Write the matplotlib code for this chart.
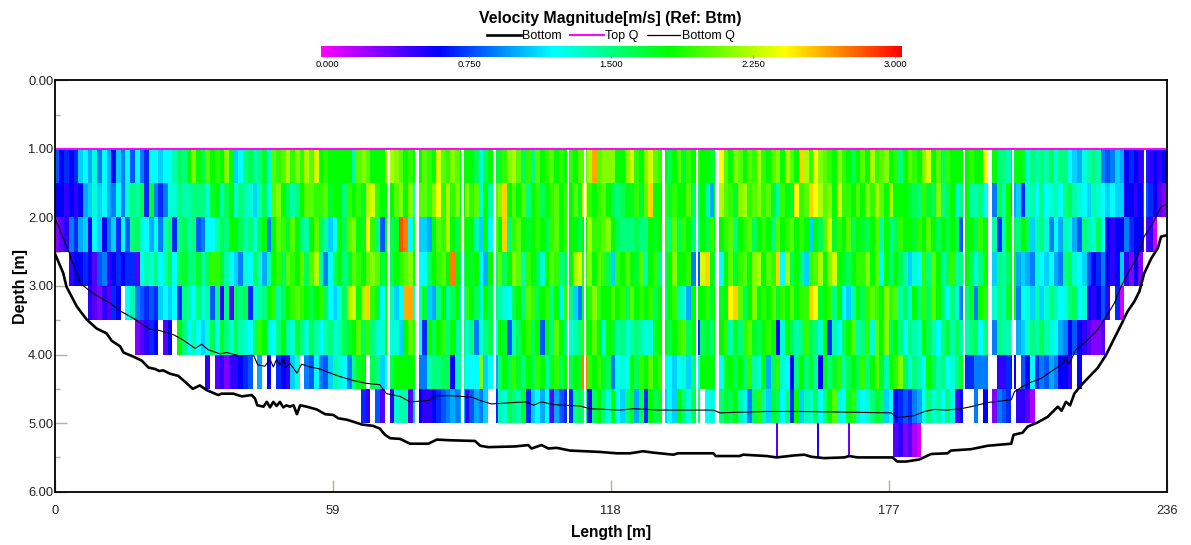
import numpy as np
import matplotlib
matplotlib.use("Agg")
import matplotlib.pyplot as plt
from matplotlib.colors import LinearSegmentedColormap
from matplotlib.lines import Line2D

plt.rcParams['font.family'] = ['Liberation Sans', 'DejaVu Sans']

W, H = 1191, 545

# velocity per 1 m column, in tenths of m/s, 0 = no data
layer_10 = [
    8,6,7,6,7,11,12,10,13,9, 12,10,6,11,9,12,8,12,9,7, 12,12,11,12,12,14,16,15,18,21,
    18,16,20,18,19,18,21,18,11,12, 15,16,14,15,17,13,20,19,20,22, 19,21,19,22,20,23,18,19,18,18,
    18,18,18,14,20,21,20,18,18,18, 22,22,21,20,18,19,18,18,20,19, 18,23,20,19,21,20,18,18,18,16,
    13,16,18,17,17,19,21,22,20,16, 19,15,20,18,19,20,18,19,18,19, 18,20,20,22,26,20,21,21,21,18,
    18,21,23,19,18,21,23,20,19,18, 16,18,20,17,19,18,19,18,18,17, 17,24,20,18,21,20,18,20,19,22,
    19,18,20,21,18,22,20,18,25,22, 19,24,21,20,19,18,21,19,18,16, 18,20,18,22,19,20,21,18,19,15,
    18,20,19,18,21,23,18,20,16,19, 18,18,18,18,19,18,18,24,18,18, 15,15,14,17,18,17,13,15,14,15,
    14,16,13,15,15,12,11,10,13,14, 15,14,9,8,9,11,10,6,7,6, 5,7,5,6,5,6]
layer_15 = [
    6,6,5,6,5,6,10,11,13,11, 12,10,9,12,9,13,15,14,16,7, 17,9,7,9,13,13,15,14,14,15,
    15,15,13,17,18,14,16,18,13,15, 14,13,11,14,16,12,20,21,18,16, 14,15,18,20,20,19,19,20,17,18,
    18,15,19,18,19,17,22,23,19,18, 18,18,20,21,18,21,13,20,20,19, 21,24,19,22,19,21,18,21,19,20,
    13,18,14,20,21,25,18,20,18,20, 15,18,19,16,18,19,20,18,19,18, 20,17,23,19,18,19,20,18,16,15,
    16,18,17,19,17,20,25,18,18,19, 17,19,18,18,20,16,15,18,14,10, 17,22,20,19,17,21,22,19,20,21,
    19,20,17,14,19,18,17,24,19,20, 25,24,22,20,21,18,23,19,19,18, 20,18,21,19,22,20,18,22,18,18,
    18,17,16,15,19,17,16,21,15,16, 18,13,15,18,14,14,15,12,15,9, 16,14,18,10,11,7,13,14,12,15,
    12,13,14,12,15,16,14,13,12,11, 14,13,12,11,12,11,11,6,6,5, 6,8,7,6,4,3]
layer_20 = [
    3,4,5,9,7,10,11,6,12,11, 6,9,11,7,12,8,15,16,13,12, 10,12,9,14,15,7,15,16,14,15,
    8,9,12,12,14,16,15,18,18,16, 14,15,13,16,18,9,18,20,19,17, 20,18,15,14,18,20,16,14,11,12,
    18,16,20,21,18,17,24,19,15,8, 18,16,17,28,27,12,19,11,11,10, 18,20,19,22,18,16,19,18,18,14,
    11,18,12,20,18,25,15,19,20,18, 17,18,19,18,16,19,20,18,19,18, 18,16,18,22,19,19,20,21,18,16,
    15,15,15,16,15,15,18,17,18,19, 15,20,16,19,18,15,14,18,16,19, 18,18,19,20,15,18,19,20,16,18,
    19,18,15,20,18,19,20,18,19,18, 11,18,16,20,23,17,19,18,20,16, 18,17,16,18,20,14,18,15,16,19,
    18,18,17,19,18,20,18,16,18,16, 18,16,8,18,18,16,19,18,18,14, 7,14,18,16,15,18,16,11,14,15,
    13,9,12,10,14,13,10,8,15,14, 13,16,12,6,5,6,6,9,7,6, 6,4,5,1,0,0]
layer_25 = [
    0,0,0,5,6,6,7,6,4,8, 9,5,6,7,6,7,7,4,12,14, 13,15,12,14,16,12,16,17,15,15,
    17,14,16,19,19,17,14,12,11,9, 13,12,16,13,10,14,18,19,16,20, 19,18,20,16,20,22,14,9,12,16,
    18,15,17,20,19,18,20,21,20,17, 18,16,18,19,20,21,18,12,12,16, 18,19,20,18,27,18,15,18,17,18,
    12,10,18,15,20,16,18,21,20,14, 19,18,16,13,18,20,19,15,16,18, 22,23,19,21,18,20,19,16,11,19,
    18,20,18,17,20,14,18,19,15,16, 18,21,18,18,19,9,8,23,25,18, 16,12,18,20,17,19,20,18,21,22,
    18,20,19,25,12,22,16,18,15,11, 19,20,22,18,21,23,18,17,16,18, 19,19,21,18,20,12,18,15,18,16,
    14,11,13,12,19,15,20,18,14,16, 19,14,15,18,16,13,15,18,17,11, 15,14,16,18,10,11,10,9,13,12,
    11,12,10,9,15,16,13,12,11,8, 6,7,9,6,5,6,11,5,3,6, 3,0,0,0,0,0]
layer_30 = [
    0,0,0,0,0,0,0,5,4,3, 5,4,7,6,0,12,14,9,8,7, 8,7,11,12,11,12,7,15,14,12,
    15,13,14,8,15,5,15,4,16,15, 16,7,13,14,15,18,19,14,16,18, 19,20,19,18,16,18,19,16,12,11,
    13,16,22,23,18,22,25,19,17,12, 18,14,11,12,26,26,12,13,17,11, 10,15,18,14,16,18,13,19,18,16,
    13,18,16,15,14,13,12,16,18,15, 20,19,16,18,19,15,18,12,19,15, 11,9,17,19,21,19,18,18,20,18,
    19,16,20,18,19,18,19,16,18,15, 18,19,14,13,10,18,18,18,19,17, 18,17,18,24,25,20,16,18,21,18,
    19,18,20,17,19,18,20,18,19,19, 25,24,17,18,19,15,18,12,11,14, 18,16,19,20,19,18,21,19,20,14,
    16,13,18,15,19,16,20,18,15,12, 15,13,9,15,17,9,18,19,12,13, 15,14,17,18,9,12,13,11,14,11,
    13,15,14,12,13,15,16,12,13,6, 5,6,8,5,0,7,1,0,0,0, 0,0,0,0,0,0]
layer_35 = [0]*10 + [
    0,0,0,0,0,0,0,3,4,5, 7,6,0,4,6,0,18,15,12,14,
    12,11,13,16,12,17,15,13,16,14, 13,12,16,19,18,13,12,15,18,14, 13,17,15,13,16,14,12,14,15,13,
    14,16,17,18,20,16,19,15,13,13, 18,13,13,11,18,20,19,12,7,18, 16,18,19,15,18,14,15,13,15,9,
    13,15,16,12,18,17,8,14,16,18, 19,16,18,8,18,15,20,18,15,13, 14,15,19,18,20,18,13,18,17,14,
    15,13,14,15,14,13,13,17,18,18, 16,18,19,20,16,18,7,16,17,15, 18,18,19,14,17,15,19,20,17,16,
    18,19,18,6,13,18,16,14,15,19, 16,15,13,18,7,14,12,16,18,20, 14,15,19,13,20,18,21,16,18,15,
    12,15,14,13,18,16,14,12,15,17, 14,16,14,14,15,16,12,15,6,9, 15,14,14,0,10,11,13,15,14,16,
    14,13,12,10,9,6,8,6,5,4, 3,3,4] + [0]*13
layer_40 = [0]*30 + [
    0,0,5,0,4,5,3,5,5,6, 7,8,0,10,0,6,0,7,6,5, 11,13,0,9,8,12,9,8,11,14,
    13,12,9,15,17,18,0,16,15,11, 12,16,18,18,18,18,18,9,9,14, 15,15,16,16,6,14,14,12,12,12,
    21,11,12,10,15,18,16,19,17,15, 18,16,19,18,14,17,19,16,18,16, 18,17,27,19,18,19,17,16,9,12,
    13,12,18,16,19,18,20,18,19,13, 12,11,12,13,11,15,12,18,18,18, 17,12,17,18,16,18,15,19,14,13,
    18,10,16,19,13,12,6,15,18,15, 17,14,6,18,15,17,19,14,16,18, 16,19,15,18,20,17,14,18,19,21,
    16,13,15,14,12,18,16,14,15,12, 13,15,17,7,7,9,9,9,12,0, 5,5,7,6,0,8,6,12,7,9,
    8,10,9,6,6,5,0,6,0,0] + [0]*16
layer_45 = [0]*60 + [
    0,0,0,0,0,7,5,0,8,4, 0,5,13,14,14,4,11,6,5,5, 6,7,8,9,10,9,10,5,8,10,
    9,11,0,7,14,13,16,15,14,17, 7,11,12,10,12,4,10,8,7,7, 15,16,15,5,16,18,15,13,18,12,
    11,15,17,10,16,7,18,16,17,11, 12,11,18,15,13,16,15,0,12,13, 12,15,17,16,18,14,12,9,16,19,
    14,11,17,16,12,15,7,18,11,14, 13,16,12,15,18,20,13,12,17,19, 14,12,13,15,17,16,11,12,6,7,
    8,7,9,10,12,15,13,14,12,15, 13,4,6,0,0,9,0,6,6,3, 9,8,7,0,5,5,4,2,0,0] + [0]*26

layers = [layer_10, layer_15, layer_20, layer_25, layer_30, layer_35, layer_40, layer_45]
layer_top = [1.0, 1.5, 2.0, 2.5, 3.0, 3.5, 4.0, 4.5, 5.0]

# the few cells in the 5.0-5.5 layer
deep_start = [153.0, 161.7, 168.4, 178, 179, 180, 181, 182, 183]
deep_width = [0.45, 0.45, 0.45, 1, 1, 1, 1, 1, 0.8]
deep_v = [0.4, 0.55, 0.35, 0.4, 0.5, 0.3, 0.4, 0.2, 0.1]

# ensembles with no data at all
gap_start = [70.5, 76.5, 86.3, 93.0, 108.7, 112.3, 128.9, 136.1, 140.2, 192.8, 198.0, 203.2, 231.1]
gap_end = [71.2, 77.3, 86.9, 93.7, 109.2, 112.7, 129.5, 136.6, 141.0, 193.2, 199.0, 203.6, 231.6]

bottom_x = [0,1.8,2.5,4.7,6.8,8.9,11,12.1,13.9,14.6,16.7,18.5,19.9,21.3,22.2,23,24.5,26.2,27.7,29.3,
    30.8,32.3,34.7,35.4,37.9,39.7,41.8,42.5,43,44.3,45,45.7,46.4,47.1,47.8,48.5,49.2,49.9,50.7,51.4,
    52.1,53.5,55.6,57.4,59.1,60.2,62,63.4,65.2,67.6,69,70.1,71.2,73.3,75.4,79.3,81.1,83.9,89.2,90.3,
    92,97.7,100.5,101.2,103.3,104.8,106.5,109.4,115.7,119.3,122.1,124.9,127,131.3,132.3,139.8,140.3,
    145.4,146.1,151.1,153.2,157.1,159.1,160.5,163.3,167.6,168.6,170.4,177.8,178.8,180.7,183.5,186,
    189.5,190.2,192.3,194.5,198,203,203.5,205.4,206.5,208.6,210.7,212.9,213.7,214.6,215.5,216.4,
    217.8,219.6,221.3,223.1,224.9,226.3,227.7,229.1,230.2,231.2,232.7,234.1,234.8,236]
bottom_d = [2.52,2.81,3.01,3.3,3.49,3.62,3.69,3.8,3.88,3.97,4.03,4.09,4.19,4.21,4.24,4.23,4.28,4.31,4.4,4.5,
    4.45,4.52,4.59,4.57,4.57,4.61,4.59,4.64,4.74,4.76,4.69,4.77,4.69,4.75,4.69,4.77,4.74,4.76,4.74,4.87,
    4.74,4.76,4.8,4.87,4.88,4.93,4.95,4.98,5.02,5.04,5.08,5.17,5.22,5.23,5.3,5.3,5.24,5.25,5.26,5.33,
    5.35,5.34,5.32,5.37,5.32,5.37,5.36,5.4,5.42,5.44,5.44,5.41,5.43,5.46,5.44,5.44,5.48,
    5.48,5.46,5.48,5.5,5.47,5.46,5.49,5.51,5.5,5.48,5.5,5.5,5.56,5.56,5.53,5.45,
    5.44,5.4,5.39,5.38,5.33,5.3,5.17,5.14,5.05,4.99,4.91,4.76,4.82,4.69,4.74,4.57,
    4.45,4.32,4.2,4.01,3.76,3.57,3.37,3.23,3.08,2.82,2.6,2.45,2.28,2.26]

bottom_q_x = [0,2.9,5.4,8.2,11.7,14.2,16.7,18.8,20.2,22.3,25.2,27.3,29.8,31.2,32.6,35.1,36.5,39.3,42.2,43.1,
    44.6,45.7,46.4,47.1,47.8,48.5,49.2,49.9,50.7,51.4,52.4,54.2,56.3,58.1,60.5,63.4,66.2,69,70.4,73.3,
    75.4,79.3,81.1,83.9,88.5,90.3,92.7,97.3,100.2,101.6,103.3,105.8,108.6,111.5,113.6,120,122.8,128.5,
    132,139.8,141.2,151.1,158.2,177.5,178.9,182.4,184.6,186.7,189.2,192.3,194.5,198,203,203.7,206.5,
    209.3,211.4,213.6,214.6,215.3,216.7,219.2,221.3,223.1,224.9,226.3,227.7,229.8,231.2,233.4,234.8,236]
bottom_q_d = [2.0,2.48,2.96,3.11,3.25,3.375,3.47,3.57,3.63,3.65,3.71,3.79,3.91,3.85,3.93,3.99,3.97,4.02,4.01,4.15,
    4.17,4.07,4.18,4.07,4.15,4.07,4.18,4.13,4.2,4.27,4.14,4.18,4.21,4.26,4.32,4.38,4.42,4.44,4.57,4.61,
    4.69,4.67,4.6,4.6,4.62,4.67,4.72,4.7,4.69,4.74,4.69,4.73,4.74,4.75,4.79,4.81,4.79,4.81,
    4.81,4.81,4.85,4.83,4.83,4.85,4.92,4.89,4.83,4.8,4.81,4.79,4.76,4.7,4.66,4.54,4.42,
    4.35,4.25,4.15,4.06,4.14,3.93,3.79,3.64,3.45,3.25,3.01,2.82,2.57,2.28,2.04,1.84,1.81]
top_q_x = [0, 236]
top_q_d = [1.0, 1.0]

x_ticks = [0, 59, 118, 177, 236]
bar_ticks = [0.0, 0.75, 1.5, 2.25, 3.0]

cmap = LinearSegmentedColormap.from_list(
    "vel", ["#ff00ff", "#0000ff", "#00ffff", "#00ff00", "#ffff00", "#ff0000"])
tan = "#b5b0a2"


def px_axes(fig, left, top, right, bottom):
    return fig.add_axes([left / W, 1 - bottom / H, (right - left) / W, (bottom - top) / H])


fig = plt.figure(figsize=(W / 100, H / 100), dpi=100)
ax = px_axes(fig, 54.7, 80.3, 1166.7, 491.7)

# velocity cells
grid = np.ma.masked_equal(np.array(layers, dtype=float), 0) / 10
ax.pcolormesh(np.arange(237), layer_top, grid, cmap=cmap, vmin=0, vmax=3, zorder=2)
ax.bar(deep_start, 0.5, width=deep_width, bottom=5.0, align='edge',
       color=cmap(np.array(deep_v) / 3), zorder=2)
for a, b in zip(gap_start, gap_end):
    ax.fill_between([a, b], 1.0, 5.0, color='white', lw=0, zorder=3)

ax.plot(bottom_x, bottom_d, color='black', lw=1.9, zorder=5, label='Bottom')
ax.plot(top_q_x, top_q_d, color='#ff00ff', lw=1.4, zorder=5, label='Top Q')
ax.plot(bottom_q_x, bottom_q_d, color='black', lw=0.8, zorder=5, label='Bottom Q')

ax.set_xlim(0, 236)
ax.set_ylim(6, 0)
ax.set_xticks(x_ticks)
ax.set_yticks(np.arange(0, 7))
ax.set_yticks(np.arange(0.5, 6, 1), minor=True)
ax.yaxis.set_major_formatter(lambda v, pos: f"{v:.2f}")
ax.tick_params(axis='both', which='major', direction='in', length=8.6, width=1, color=tan,
               labelsize=9.3, labelcolor='#222222')
ax.tick_params(axis='x', which='major', pad=9.5)
ax.tick_params(axis='y', which='major', pad=1)
ax.tick_params(axis='y', which='minor', direction='in', length=3.6, width=1, color=tan)
for s in ax.spines.values():
    s.set_linewidth(1.3)
    s.set_zorder(6)
ax.set_xlabel("Length [m]", fontweight='bold', fontsize=11.2, labelpad=6)
ax.set_ylabel("Depth [m]", fontweight='bold', fontsize=11.5, labelpad=0)

# colour bar across the top
cax = px_axes(fig, 321, 46, 901, 57.5)
vals = np.linspace(0, 3, 256).reshape(1, -1)
cax.imshow(vals, cmap=cmap, vmin=0, vmax=3, aspect='auto', extent=[-0.032, 3.032, 0, 1])
cax.set_yticks([])
cax.set_xticks(bar_ticks)
cax.set_xticklabels([f"{v:.3f}" for v in bar_ticks])
cax.tick_params(axis='x', direction='in', length=2, width=0.6, color='#777777', labelsize=6.8, pad=2)
for s in cax.spines.values():
    s.set_visible(False)

fig.text(610.5 / W, 1 - 18 / H, "Velocity Magnitude[m/s] (Ref: Btm)", fontweight='bold',
         fontsize=11.4, ha='center', va='center')

handles = [Line2D([], [], color='black', lw=1.9), Line2D([], [], color='#ff00ff', lw=1.4),
           Line2D([], [], color='black', lw=0.9)]
fig.legend(handles, ['Bottom', 'Top Q', 'Bottom Q'], ncol=3, frameon=False, fontsize=9,
           loc='center', bbox_to_anchor=(611 / W, 1 - 36 / H), handlelength=2.7, handletextpad=0.1,
           columnspacing=0.65, borderpad=0)

fig.savefig("out.png", dpi=100)
